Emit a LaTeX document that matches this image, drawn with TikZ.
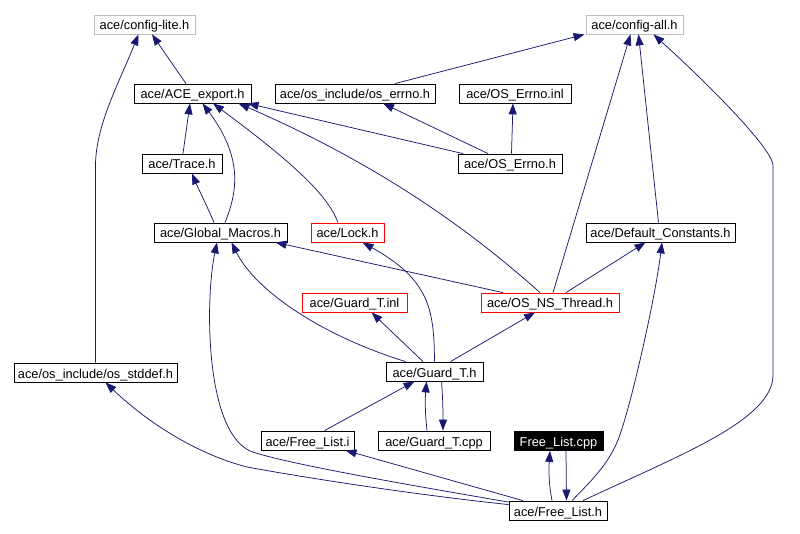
\documentclass[tikz,border=0pt]{standalone}
\usepackage{fontspec}
\setmainfont{Liberation Sans}
\usetikzlibrary{arrows.meta,calc}
\definecolor{edgecol}{RGB}{25,25,112}
\definecolor{graybd}{RGB}{191,191,191}
\definecolor{redbd}{RGB}{255,0,0}
\tikzset{
  box/.style={draw=black, rectangle, inner sep=0pt, minimum height=19pt, line width=0.8pt,
    text height=13pt, text depth=2pt,
    font=\fontsize{12.8}{15}\selectfont, anchor=center},
  graybox/.style={box, draw=graybd},
  redbox/.style={box, draw=redbd},
  blackbox/.style={box, fill=black, text=white},
  edge/.style={draw=edgecol, line width=0.75pt, -{Triangle[length=11pt,width=8pt]}}
}
\begin{document}
\begin{tikzpicture}[x=1pt,y=-1pt]
\useasboundingbox[fill=white] (0,0) rectangle (800,534);
% nodes
\node[graybox, minimum width=101pt] (lite) at (144.5,24.5) {ace/config-lite.h};
\node[graybox, minimum width=97pt] (all) at (634.5,24.5) {ace/config-all.h};
\node[box, minimum width=117pt] (export) at (192.5,93.5) {ace/ACE\_export.h};
\node[box, minimum width=160pt] (oserrno) at (355,93.5) {ace/os\_include/os\_errno.h};
\node[box, minimum width=112pt] (errinl) at (515,93.5) {ace/OS\_Errno.inl};
\node[box, minimum width=80pt] (trace) at (182,163.5) {ace/Trace.h};
\node[box, minimum width=104pt] (errh) at (510,163.5) {ace/OS\_Errno.h};
\node[box, minimum width=133pt] (gm) at (220.5,232.5) {ace/Global\_Macros.h};
\node[redbox, minimum width=73pt] (lock) at (347.5,232.5) {ace/Lock.h};
\node[box, minimum width=149pt] (dc) at (660.5,232.5) {ace/Default\_Constants.h};
\node[redbox, minimum width=105pt] (gtinl) at (354.5,302.5) {ace/Guard\_T.inl};
\node[redbox, minimum width=138pt] (nst) at (550,302.5) {ace/OS\_NS\_Thread.h};
\node[box, minimum width=163pt] (stddef) at (95.5,372.5) {ace/os\_include/os\_stddef.h};
\node[box, minimum width=97pt] (gth) at (434.5,371.5) {ace/Guard\_T.h};
\node[box, minimum width=93pt] (fli) at (307.5,440.5) {ace/Free\_List.i};
\node[box, minimum width=112pt] (gtcpp) at (434,440.5) {ace/Guard\_T.cpp};
\node[blackbox, minimum width=89pt] (flcpp) at (558.5,441) {Free\_List.cpp};
\node[box, minimum width=98pt] (flh) at (558,510.5) {ace/Free\_List.h};
% edges
\draw[edge] ([xshift=-6.5pt]export.north) -- ([xshift=7.5pt]lite.south);
\draw[edge] (stddef.north) -- (95.5,165) .. controls (96,125) and (118,85) .. ([xshift=-6pt]lite.south);
\draw[edge] ([xshift=1pt]trace.north) -- ([xshift=-2.5pt]export.south);
\draw[edge] ([xshift=-6.5pt]gm.north) .. controls (208,208) and (198,188) .. ([xshift=10pt]trace.south);
\draw[edge] ([xshift=4.5pt]gm.north) .. controls (236,195) and (245,160) .. ([xshift=10pt]export.south);
\draw[edge] ([xshift=-9.5pt]lock.north) .. controls (328,195) and (292,162) .. ([xshift=20.5pt]export.south);
\draw[edge] ([xshift=-10pt]nst.north) .. controls (470,230) and (380,165) .. ([xshift=46pt]export.south);
\draw[edge] ([xshift=-47pt]errh.north) -- ([xshift=55pt]export.south);
\draw[edge] ([xshift=-22pt]errh.north) -- ([xshift=28pt]oserrno.south);
\draw[edge] ([xshift=1.5pt]errh.north) -- ([xshift=-2pt]errinl.south);
\draw[edge] ([xshift=40pt]oserrno.north) -- ([xshift=-50pt]all.south);
\draw[edge] ([xshift=3pt]nst.north) -- ([xshift=-4pt]all.south);
\draw[edge] ([xshift=-2pt]dc.north) -- ([xshift=4pt]all.south);
\draw[edge] ([xshift=25pt]flh.north) .. controls (680,455) and (773,420) .. (773,375) -- (773,165) .. controls (772,150) and (720,95) .. ([xshift=19pt]all.south);
\draw[edge] ([xshift=-47pt]nst.north) -- ([xshift=55pt]gm.south);
\draw[edge] ([xshift=16pt]nst.north) -- ([xshift=-15pt]dc.south);
\draw[edge] ([xshift=16pt]gth.north) -- ([xshift=-15pt]nst.south);
\draw[edge] ([xshift=-29pt]gth.north) .. controls (320,335) and (255,290) .. ([xshift=11pt]gm.south);
\draw[edge] ([xshift=-11.5pt]gth.north) -- ([xshift=17pt]gtinl.south);
\draw[edge] (gth.north) .. controls (434,310) and (430,280) .. ([xshift=15pt]lock.south);
\draw[edge] ([xshift=-7pt]gtcpp.north) .. controls (425,412) and (425,400) .. ([xshift=-8pt]gth.south);
\draw[edge] ([xshift=7pt]gth.south) .. controls (443,400) and (443,415) .. ([xshift=9pt]gtcpp.north);
\draw[edge] ([xshift=17pt]fli.north) -- ([xshift=-20pt]gth.south);
\draw[edge] ([xshift=-35pt]flh.north) -- ([xshift=38pt]fli.south);
\draw[edge] ([yshift=-1.5pt]flh.north west) .. controls (380,480) and (280,462) .. (250,451) .. controls (205,430) and (205,300) .. ([xshift=-3.5pt]gm.south);
\draw[edge] ([yshift=-4pt]flh.north west) .. controls (400,493) and (290,475) .. (247,467) .. controls (200,455) and (150,425) .. ([xshift=10pt]stddef.south);
\draw[edge] ([xshift=-6pt]flh.north) .. controls (548,480) and (549,465) .. ([xshift=-8.5pt]flcpp.south);
\draw[edge] ([xshift=7.5pt]flcpp.south) -- ([xshift=8.5pt]flh.north);
\draw[edge] ([xshift=14pt]flh.north) .. controls (590,482) and (608,465) .. (618,440) .. controls (630,410) and (655,300) .. ([xshift=1.5pt]dc.south);
\end{tikzpicture}
\end{document}
